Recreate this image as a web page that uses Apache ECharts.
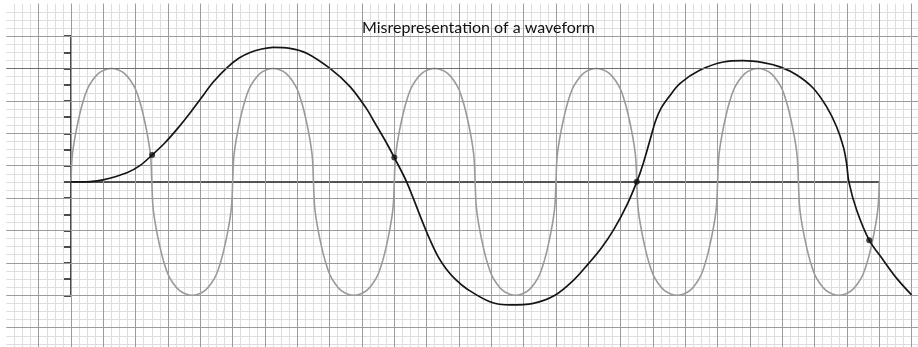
<!DOCTYPE html>
<html>
<head>
<meta charset="utf-8">
<title>Misrepresentation of a waveform</title>
<script src="https://cdn.jsdelivr.net/npm/echarts@6/dist/echarts.min.js"></script>
<style>
  html, body { margin: 0; padding: 0; background: #ffffff; }
  #chart { width: 918px; height: 347px; }
</style>
</head>
<body>
<div id="chart"></div>
<script>
// Units: one major graph-paper square on both axes; the origin sits where the axes cross.
const titleText = 'Misrepresentation of a waveform';

// The true signal: five full cycles of the fast waveform.
const signalPoints = [
  [0,0],[0.03,0.7],[0.08,1.12],[0.155,1.55],[0.25,2],[0.35,2.4],[0.5,2.85],[0.66,3.13],[0.85,3.35],[1.05,3.46],[1.25,3.5],[1.45,3.46],[1.65,3.35],[1.84,3.13],[2,2.85],[2.15,2.4],[2.25,2],[2.345,1.55],[2.42,1.12],[2.47,0.7],
  [2.5,0],[2.53,-0.7],[2.58,-1.12],[2.655,-1.55],[2.75,-2],[2.85,-2.4],[3,-2.85],[3.16,-3.13],[3.35,-3.35],[3.55,-3.46],[3.75,-3.5],[3.95,-3.46],[4.15,-3.35],[4.34,-3.13],[4.5,-2.85],[4.65,-2.4],[4.75,-2],[4.845,-1.55],[4.92,-1.12],[4.97,-0.7],
  [5,0],[5.03,0.7],[5.08,1.12],[5.155,1.55],[5.25,2],[5.35,2.4],[5.5,2.85],[5.66,3.13],[5.85,3.35],[6.05,3.46],[6.25,3.5],[6.45,3.46],[6.65,3.35],[6.84,3.13],[7,2.85],[7.15,2.4],[7.25,2],[7.345,1.55],[7.42,1.12],[7.47,0.7],
  [7.5,0],[7.53,-0.7],[7.58,-1.12],[7.655,-1.55],[7.75,-2],[7.85,-2.4],[8,-2.85],[8.16,-3.13],[8.35,-3.35],[8.55,-3.46],[8.75,-3.5],[8.95,-3.46],[9.15,-3.35],[9.34,-3.13],[9.5,-2.85],[9.65,-2.4],[9.75,-2],[9.845,-1.55],[9.92,-1.12],[9.97,-0.7],
  [10,0],[10.03,0.7],[10.08,1.12],[10.155,1.55],[10.25,2],[10.35,2.4],[10.5,2.85],[10.66,3.13],[10.85,3.35],[11.05,3.46],[11.25,3.5],[11.45,3.46],[11.65,3.35],[11.84,3.13],[12,2.85],[12.15,2.4],[12.25,2],[12.345,1.55],[12.42,1.12],[12.47,0.7],
  [12.5,0],[12.53,-0.7],[12.58,-1.12],[12.655,-1.55],[12.75,-2],[12.85,-2.4],[13,-2.85],[13.16,-3.13],[13.35,-3.35],[13.55,-3.46],[13.75,-3.5],[13.95,-3.46],[14.15,-3.35],[14.34,-3.13],[14.5,-2.85],[14.65,-2.4],[14.75,-2],[14.845,-1.55],[14.92,-1.12],[14.97,-0.7],
  [15,0],[15.03,0.7],[15.08,1.12],[15.155,1.55],[15.25,2],[15.35,2.4],[15.5,2.85],[15.66,3.13],[15.85,3.35],[16.05,3.46],[16.25,3.5],[16.45,3.46],[16.65,3.35],[16.84,3.13],[17,2.85],[17.15,2.4],[17.25,2],[17.345,1.55],[17.42,1.12],[17.47,0.7],
  [17.5,0],[17.53,-0.7],[17.58,-1.12],[17.655,-1.55],[17.75,-2],[17.85,-2.4],[18,-2.85],[18.16,-3.13],[18.35,-3.35],[18.55,-3.46],[18.75,-3.5],[18.95,-3.46],[19.15,-3.35],[19.34,-3.13],[19.5,-2.85],[19.65,-2.4],[19.75,-2],[19.845,-1.55],[19.92,-1.12],[19.97,-0.7],
  [20,0],[20.03,0.7],[20.08,1.12],[20.155,1.55],[20.25,2],[20.35,2.4],[20.5,2.85],[20.66,3.13],[20.85,3.35],[21.05,3.46],[21.25,3.5],[21.45,3.46],[21.65,3.35],[21.84,3.13],[22,2.85],[22.15,2.4],[22.25,2],[22.345,1.55],[22.42,1.12],[22.47,0.7],
  [22.5,0],[22.53,-0.7],[22.58,-1.12],[22.655,-1.55],[22.75,-2],[22.85,-2.4],[23,-2.85],[23.16,-3.13],[23.35,-3.35],[23.55,-3.46],[23.75,-3.5],[23.95,-3.46],[24.15,-3.35],[24.34,-3.13],[24.5,-2.85],[24.65,-2.4],[24.75,-2],[24.845,-1.55],[24.92,-1.12],[24.97,-0.7],
  [25,0]
];

// The slow wave that the samples appear to describe.
const aliasPoints = [
  [0,0],[0.59,0.01],[0.99,0.06],[1.73,0.28],[2.13,0.5],[2.51,0.83],[2.9,1.2],[3.3,1.65],
  [3.7,2.15],[4.0,2.55],[4.4,3.08],[4.82,3.52],[5.2,3.82],[5.54,3.99],[5.9,4.1],[6.26,4.15],
  [6.77,4.12],[7.29,3.97],[8.01,3.5],[8.63,2.94],[9.14,2.26],[9.35,1.9],[9.76,1.2],[10.0,0.75],
  [10.38,0],[10.85,-1.18],[11.1,-1.78],[11.35,-2.3],[11.6,-2.68],[11.9,-3.02],[12.24,-3.3],
  [12.96,-3.7],[13.58,-3.8],[14.3,-3.75],[14.97,-3.5],[15.54,-3.04],[16.0,-2.53],[16.4,-2.05],
  [16.8,-1.45],[17.2,-0.7],[17.5,0],[17.7,0.57],[17.91,1.29],[18.08,1.88],[18.25,2.27],[18.5,2.63],
  [18.84,3.04],[19.46,3.45],[20.18,3.7],[20.79,3.74],[21.41,3.68],[21.93,3.55],[22.45,3.3],
  [22.96,2.89],[23.37,2.32],[23.68,1.7],[23.89,1.08],[23.99,0.57],[24.06,0],[24.3,-0.87],
  [24.69,-1.8],[25.12,-2.41],[25.54,-2.98],[26.0,-3.49]
];

// Sample instants marked on the curves.
const samplePoints = [[2.51,0.83],[10.0,0.75],[17.5,0],[24.69,-1.8]];

// Level of the signal's peak, drawn as a heavier rule across the paper.
const peakLevel = 3.5;

// Paper geometry: one square is 32.33 px wide and 32.4 px tall.
const CELL_X = 32.33, CELL_Y = 32.4;
const PAPER_LEFT = 6.34, PAPER_TOP = 3.65, W = 918, H = 347;
const xMin = -2;
const xMax = xMin + (W - PAPER_LEFT) / CELL_X;
const yMax = 5.5;
const yMin = yMax - (H - PAPER_TOP) / CELL_Y;
const rowsDown = (H - PAPER_TOP) / CELL_Y;   // paper rows counted from the top edge

const hidden = { axisLine: { show: false }, axisTick: { show: false }, axisLabel: { show: false } };

const chart = echarts.init(document.getElementById('chart'), null, { renderer: 'canvas' });

chart.setOption({
  animation: false,
  backgroundColor: '#ffffff',
  title: {
    text: titleText,
    left: 362,
    top: 19.5,
    padding: 0,
    textStyle: { fontFamily: 'Lato', fontSize: 16, fontWeight: 'normal', color: '#111111' }
  },
  grid: [
    { left: PAPER_LEFT, right: 0, top: PAPER_TOP, bottom: 0 },
    { left: 71, right: 38.75, top: 36.05, bottom: 51.75 }
  ],
  xAxis: [
    // data axis, also carries the heavy vertical rules
    Object.assign({
      gridIndex: 0, type: 'value', min: xMin, max: xMax, interval: 1, z: 1,
      splitLine: { show: true, showMinLine: false, showMaxLine: false, lineStyle: { color: '#9c9c9c', width: 1 } }
    }, hidden),
    // drawn horizontal axis
    {
      gridIndex: 1, type: 'value', min: 0, max: 25,
      axisLine: { show: true, onZero: true, lineStyle: { color: '#222222', width: 1.6 } },
      axisTick: { show: false }, axisLabel: { show: false }, splitLine: { show: false }
    },
    // fine vertical rules
    Object.assign({
      gridIndex: 0, type: 'value', min: xMin, max: xMax, interval: 0.25, z: 0,
      splitLine: { show: true, showMinLine: false, showMaxLine: false, lineStyle: { color: '#dedede', width: 1 } }
    }, hidden)
  ],
  yAxis: [
    { gridIndex: 0, type: 'value', min: yMin, max: yMax, show: false },
    // heavy horizontal rules, counted down from the paper's top edge
    Object.assign({
      gridIndex: 0, type: 'value', inverse: true, min: 0, max: rowsDown, interval: 1, z: 1,
      splitLine: { show: true, showMinLine: false, showMaxLine: false, lineStyle: { color: '#9c9c9c', width: 1 } }
    }, hidden),
    // drawn vertical axis with its ticks
    {
      gridIndex: 1, type: 'value', min: -3.5, max: 4.5, interval: 0.5,
      axisLine: { show: true, lineStyle: { color: '#222222', width: 1.6 } },
      axisTick: { show: true, inside: false, length: 7, lineStyle: { color: '#222222', width: 1.6 } },
      axisLabel: { show: false }, splitLine: { show: false }
    },
    // fine horizontal rules
    Object.assign({
      gridIndex: 0, type: 'value', inverse: true, min: 0, max: rowsDown, interval: 0.25, z: 0,
      splitLine: { show: true, showMinLine: false, showMaxLine: false, lineStyle: { color: '#dedede', width: 1 } }
    }, hidden)
  ],
  series: [
    {
      name: 'signal', type: 'line', xAxisIndex: 0, yAxisIndex: 0,
      data: signalPoints, showSymbol: false, smooth: 0.4,
      lineStyle: { color: '#9a9a9a', width: 1.6 }, z: 3,
      markLine: {
        silent: true, symbol: 'none', label: { show: false },
        lineStyle: { color: '#6f6f6f', width: 1.2, type: 'solid' },
        data: [{ yAxis: peakLevel }]
      }
    },
    {
      name: 'alias', type: 'line', xAxisIndex: 0, yAxisIndex: 0,
      data: aliasPoints, showSymbol: false, smooth: 0.35,
      lineStyle: { color: '#151515', width: 1.7 }, z: 4
    },
    {
      name: 'samples', type: 'scatter', xAxisIndex: 0, yAxisIndex: 0,
      data: samplePoints, symbolSize: 6,
      itemStyle: { color: '#111111' }, z: 5
    }
  ]
});
</script>
</body>
</html>
